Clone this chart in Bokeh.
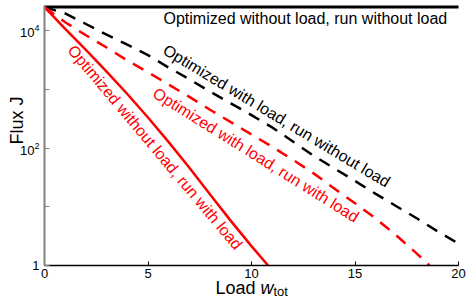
import math
from bokeh.plotting import figure
from bokeh.models import Range1d, FixedTicker, LogTickFormatter, Label
from bokeh.embed import file_html
from bokeh.resources import INLINE

# ---------------- data ----------------
load_flat = [0, 20]
flux_flat = [25000, 25000]          # optimized without load, run without load

load_bd = [0, 1, 2, 3, 4, 5, 6, 7, 8, 9, 10, 11, 12, 13, 14, 15, 16, 17, 18, 19, 20]
flux_bd = [25000, 19500, 12900, 8500, 5750, 3800, 2340, 1480, 910, 575, 363,
           224, 129, 74, 45, 27.5, 16.6, 10.2, 6.3, 3.8, 2.35]   # optimized with load, run without load

load_rd = [0, 1, 2, 3, 4, 5, 6, 7, 8, 9, 10, 11, 12, 13, 14, 15, 16, 17, 18, 18.6]
flux_rd = [25000, 13800, 8300, 5130, 3090, 1950, 1200, 740, 447, 275, 170,
           105, 63, 37, 20.4, 11.5, 6.3, 3.24, 1.58, 1.0]   # optimized with load, run with load

load_rs = [0, 1, 2, 3, 4, 5, 6, 7, 8, 9, 10, 10.8]
flux_rs = [25000, 10700, 4680, 2000, 830, 330, 126, 46, 16.2, 5.75, 2.14, 1.0]  # optimized without load, run with load

x_ticks = [0, 5, 10, 15, 20]
y_major = [1, 100, 10000]
y_minor = [10, 1000]

FONT = "Liberation Sans"

# ---------------- page geometry (pixels) ----------------
W, H = 467, 301
PX_LEFT, PX_RIGHT = 44, 458        # x = 0 and x = 20
PX_BOTTOM = 265                    # y = 1
PX_PER_DEC = 58.75                 # pixels per decade
PX_AXIS_TOP = 5

def fx(px):
    return (px - PX_LEFT) * 20 / (PX_RIGHT - PX_LEFT)

def fy(py):
    return 10 ** ((PX_BOTTOM - py) / PX_PER_DEC)

# ---------------- figure ----------------
p = figure(width=W, height=H, output_backend="svg", toolbar_location=None,
           y_axis_type="log",
           x_range=Range1d(fx(0), fx(W)), y_range=Range1d(fy(H), fy(0)),
           min_border=0, min_border_left=0, min_border_right=0,
           min_border_top=0, min_border_bottom=0)
p.outline_line_color = None
p.xgrid.visible = False
p.ygrid.visible = False
p.background_fill_color = "white"
p.border_fill_color = "white"

# x axis
xa = p.xaxis[0]
xa.fixed_location = 1
xa.bounds = (0, 20)
xa.ticker = FixedTicker(ticks=x_ticks)
xa.axis_line_color = "black"
xa.axis_line_width = 1.5
xa.major_tick_line_color = "black"
xa.major_tick_in = 4
xa.major_tick_out = 0
xa.minor_tick_in = 0
xa.minor_tick_out = 0
xa.major_label_text_font = FONT
xa.major_label_text_font_size = "13px"
xa.major_label_text_color = "black"
xa.major_label_standoff = 3

# y axis
ya = p.yaxis[0]
ya.fixed_location = 0
ya.bounds = (1, fy(PX_AXIS_TOP))
ya.ticker = FixedTicker(ticks=y_major, minor_ticks=y_minor)
ya.formatter = LogTickFormatter(min_exponent=1)
ya.axis_line_color = "#808080"
ya.axis_line_width = 2
ya.major_tick_line_color = "#808080"
ya.minor_tick_line_color = "#808080"
ya.major_tick_in = 5
ya.major_tick_out = 0
ya.minor_tick_in = 5
ya.minor_tick_out = 0
ya.major_label_text_font = FONT
ya.major_label_text_font_size = "13px"
ya.major_label_text_color = "black"
ya.major_label_standoff = 5

# ---------------- lines ----------------
p.line(load_flat, flux_flat, line_color="black", line_width=3)
p.line(load_bd, flux_bd, line_color="black", line_width=2.5, line_dash="12 9")
p.line(load_rd, flux_rd, line_color="#ff0000", line_width=2.5, line_dash="12 9")
p.line(load_rs, flux_rs, line_color="#ff0000", line_width=2.5)

# ---------------- annotations ----------------
def add_label(px, py, text, color="black", angle_deg=0, size="16px", align="left",
              baseline="middle", style="normal"):
    p.add_layout(Label(x=fx(px), y=fy(py), text=text, text_color=color,
                       text_font=FONT, text_font_size=size, text_align=align,
                       text_baseline=baseline, text_font_style=style,
                       angle=math.radians(angle_deg)))

add_label(163, 18, "Optimized without load, run without load")
add_label(164, 48, "Optimized with load, run without load", angle_deg=-31)
add_label(154, 91, "Optimized with load, run with load", color="#ff0000", angle_deg=-32)
add_label(70.5, 46.6, "Optimized without load, run with load", color="#ff0000", angle_deg=-50)

# axis titles
add_label(215, 287, "Load ", size="18px", baseline="alphabetic")
add_label(260, 287, "w", size="18px", baseline="alphabetic", style="italic")
add_label(273, 291, "tot", size="13px", baseline="alphabetic")
add_label(16, 120, "Flux J", size="18px", baseline="alphabetic", align="center", angle_deg=90)

open("out.html", "w").write(file_html(p, INLINE))
